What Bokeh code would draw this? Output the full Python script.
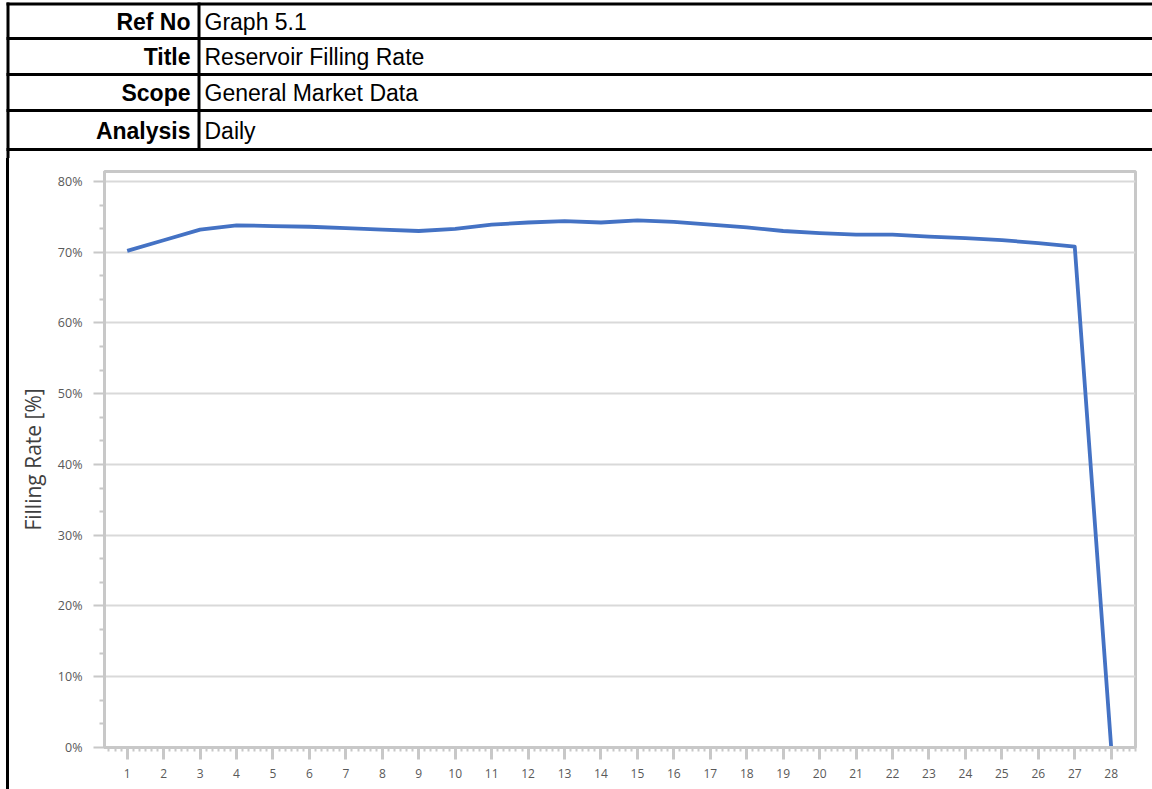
from bokeh.plotting import figure
from bokeh.models import Range1d, FixedTicker, PrintfTickFormatter
from bokeh.layouts import column
from bokeh.core.properties import value
from bokeh.embed import file_html
from bokeh.resources import INLINE

# ---------------- data ----------------
days = list(range(1, 29))
filling_rate = [70.2, 71.7, 73.2, 73.8, 73.7, 73.6, 73.4, 73.2, 73.0, 73.3,
                73.9, 74.2, 74.4, 74.2, 74.5, 74.3, 73.9, 73.5, 73.0, 72.7,
                72.5, 72.5, 72.2, 72.0, 71.7, 71.3, 70.8, 0.0]
y_ticks = [0, 10, 20, 30, 40, 50, 60, 70, 80]
header_keys = ["Ref No", "Title", "Scope", "Analysis"]
header_values = ["Graph 5.1", "Reservoir Filling Rate", "General Market Data", "Daily"]
y_axis_title = "Filling Rate [%]"

PAGE_W = 1152
HDR_H = 158
CH_H = 631
CH_X0 = 9  # chart canvas starts after margin + black border

# ---------------- header table ----------------
hdr = figure(width=PAGE_W, height=HDR_H, x_range=Range1d(0, PAGE_W), y_range=Range1d(HDR_H, 0),
             output_backend="svg", toolbar_location=None, min_border=0)
if "frame_align" in hdr.properties():
    hdr.frame_align = False
hdr.axis.visible = False
hdr.grid.visible = False
hdr.outline_line_color = None
row_lines = [3.5, 38, 74, 110, 149]
hdr.segment(x0=6, x1=PAGE_W, y0=row_lines, y1=row_lines, line_color="black", line_width=3)
hdr.segment(x0=[7.5, 198.5], x1=[7.5, 198.5], y0=[2, 2], y1=[HDR_H, 149],
            line_color="black", line_width=3)
centers = [21.5, 56.5, 92.5, 130]
hdr.text(x=190, y=centers, text=header_keys, text_align="right", text_baseline="middle",
         text_font=value("Liberation Sans"), text_font_style="bold",
         text_font_size="23px", text_color="black")
hdr.text(x=204, y=centers, text=header_values, text_align="left", text_baseline="middle",
         text_font=value("Liberation Sans"), text_font_size="23px", text_color="black")

# ---------------- chart ----------------
p = figure(width=PAGE_W - CH_X0, height=CH_H,
           x_range=Range1d(0.377, 28.667), y_range=Range1d(0, 81.41),
           output_backend="svg", toolbar_location=None,
           min_border_left=104 - CH_X0, min_border_right=PAGE_W - 1135,
           min_border_top=13, min_border_bottom=42,
           styles={"margin-left": "6px", "border-left": "3px solid black"})
if "frame_align" in p.properties():
    p.frame_align = False
p.line(days, filling_rate, line_color="#4472C4", line_width=3.8, line_join="round")

minor_x = [1 + k / 6 for k in range(-4, 170) if k % 6 != 0]
minor_y = [k * 10 / 3 for k in range(0, 25) if k % 3 != 0]
p.xaxis.ticker = FixedTicker(ticks=days, minor_ticks=minor_x)
p.yaxis.ticker = FixedTicker(ticks=y_ticks, minor_ticks=minor_y)
p.yaxis.formatter = PrintfTickFormatter(format="%d%%")

grey = "#c8c8c8"
p.outline_line_color = grey
p.outline_line_width = 3
p.xgrid.visible = False
p.ygrid.grid_line_color = "#d9d9d9"
p.ygrid.grid_line_width = 2

for ax in (p.xaxis, p.yaxis):
    ax.axis_line_color = grey
    ax.axis_line_width = 3
    ax.major_tick_line_color = grey
    ax.minor_tick_line_color = grey
    ax.major_tick_in = 0
    ax.minor_tick_in = 0
    ax.major_label_text_color = "#595959"
    ax.major_label_text_font = "Open Sans"

p.xaxis.major_tick_out = 12
p.xaxis.major_tick_line_width = 3
p.xaxis.minor_tick_out = 4
p.xaxis.minor_tick_line_width = 2
p.xaxis.major_label_standoff = 9
p.xaxis.major_label_text_font_size = "12px"

p.yaxis.major_tick_out = 11
p.yaxis.major_tick_line_width = 2
p.yaxis.minor_tick_out = 5
p.yaxis.minor_tick_line_width = 2
p.yaxis.major_label_standoff = 11
p.yaxis.major_label_text_font_size = "12.5px"
p.yaxis.axis_label = y_axis_title
p.yaxis.axis_label_text_font = "Open Sans"
p.yaxis.axis_label_text_font_style = "normal"
p.yaxis.axis_label_text_font_size = "21px"
p.yaxis.axis_label_text_color = "#404040"
p.yaxis.axis_label_standoff = 8

layout = column(hdr, p, spacing=0)
open("out.html", "w").write(file_html(layout, INLINE))
